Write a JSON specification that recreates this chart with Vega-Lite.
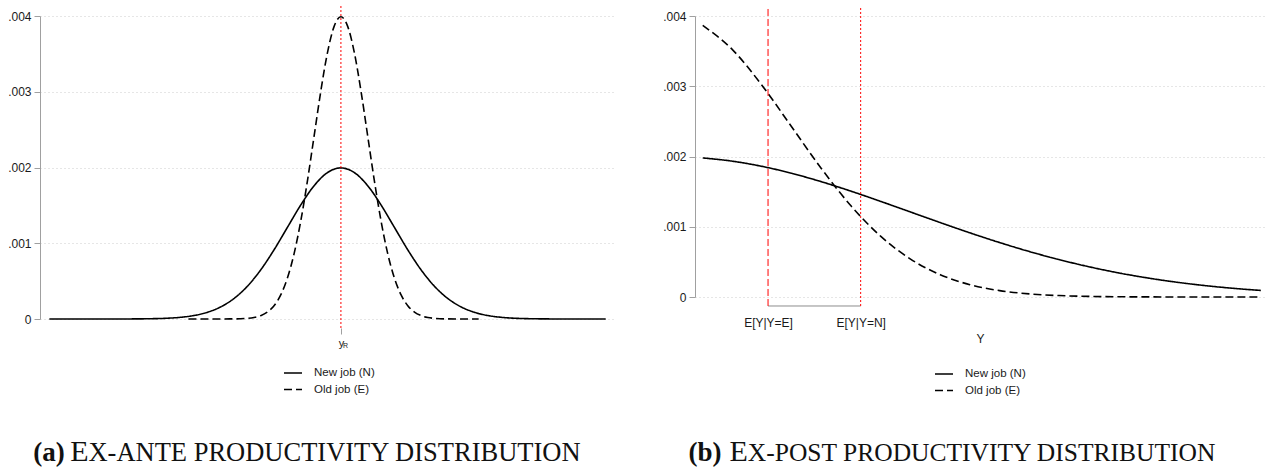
{
  "$schema": "https://vega.github.io/schema/vega-lite/v6.json",
  "background": "white",
  "padding": {"left": 7, "top": 5, "right": 0, "bottom": 0},
  "config": {
    "view": {"stroke": null},
    "axis": {
      "labelFont": "Liberation Sans", "labelFontSize": 12, "labelColor": "#1a1a1a",
      "titleFont": "Liberation Sans", "titleFontSize": 12, "titleFontWeight": "normal", "titleColor": "#1a1a1a",
      "domainColor": "#a0a0a0", "tickColor": "#a0a0a0", "gridColor": "#cccccc", "gridDash": [1, 3]
    },
    "legend": {
      "labelFont": "Liberation Sans", "labelFontSize": 11.5, "labelColor": "#1a1a1a"
    }
  },
  "datasets": {
    "left": [
      {"x": -1090, "d": 0, "s": "New job (N)"},
      {"x": -900, "d": 0.0000001, "s": "New job (N)"},
      {"x": -800, "d": 0.0000007, "s": "New job (N)"},
      {"x": -700, "d": 0.0000044, "s": "New job (N)"},
      {"x": -650, "d": 0.0000101, "s": "New job (N)"},
      {"x": -600, "d": 0.0000222, "s": "New job (N)"},
      {"x": -550, "d": 0.0000455, "s": "New job (N)"},
      {"x": -500, "d": 0.0000876, "s": "New job (N)"},
      {"x": -450, "d": 0.0001587, "s": "New job (N)"},
      {"x": -400, "d": 0.00027, "s": "New job (N)"},
      {"x": -350, "d": 0.0004314, "s": "New job (N)"},
      {"x": -300, "d": 0.0006476, "s": "New job (N)"},
      {"x": -250, "d": 0.0009132, "s": "New job (N)"},
      {"x": -200, "d": 0.0012098, "s": "New job (N)"},
      {"x": -150, "d": 0.0015057, "s": "New job (N)"},
      {"x": -100, "d": 0.0017603, "s": "New job (N)"},
      {"x": -50, "d": 0.0019333, "s": "New job (N)"},
      {"x": 0, "d": 0.0019947, "s": "New job (N)"},
      {"x": 50, "d": 0.0019333, "s": "New job (N)"},
      {"x": 100, "d": 0.0017603, "s": "New job (N)"},
      {"x": 150, "d": 0.0015057, "s": "New job (N)"},
      {"x": 200, "d": 0.0012098, "s": "New job (N)"},
      {"x": 250, "d": 0.0009132, "s": "New job (N)"},
      {"x": 300, "d": 0.0006476, "s": "New job (N)"},
      {"x": 350, "d": 0.0004314, "s": "New job (N)"},
      {"x": 400, "d": 0.00027, "s": "New job (N)"},
      {"x": 450, "d": 0.0001587, "s": "New job (N)"},
      {"x": 500, "d": 0.0000876, "s": "New job (N)"},
      {"x": 550, "d": 0.0000455, "s": "New job (N)"},
      {"x": 600, "d": 0.0000222, "s": "New job (N)"},
      {"x": 650, "d": 0.0000101, "s": "New job (N)"},
      {"x": 700, "d": 0.0000044, "s": "New job (N)"},
      {"x": 800, "d": 0.0000007, "s": "New job (N)"},
      {"x": 900, "d": 0.0000001, "s": "New job (N)"},
      {"x": 990, "d": 0, "s": "New job (N)"},
      {"x": -570, "d": 0, "s": "Old job (E)"},
      {"x": -400, "d": 0.0000013, "s": "Old job (E)"},
      {"x": -350, "d": 0.0000087, "s": "Old job (E)"},
      {"x": -325, "d": 0.0000203, "s": "Old job (E)"},
      {"x": -300, "d": 0.0000443, "s": "Old job (E)"},
      {"x": -275, "d": 0.000091, "s": "Old job (E)"},
      {"x": -250, "d": 0.0001753, "s": "Old job (E)"},
      {"x": -225, "d": 0.0003174, "s": "Old job (E)"},
      {"x": -200, "d": 0.0005399, "s": "Old job (E)"},
      {"x": -175, "d": 0.0008628, "s": "Old job (E)"},
      {"x": -150, "d": 0.0012952, "s": "Old job (E)"},
      {"x": -125, "d": 0.0018265, "s": "Old job (E)"},
      {"x": -100, "d": 0.0024197, "s": "Old job (E)"},
      {"x": -75, "d": 0.0030114, "s": "Old job (E)"},
      {"x": -50, "d": 0.0035207, "s": "Old job (E)"},
      {"x": -25, "d": 0.0038667, "s": "Old job (E)"},
      {"x": 0, "d": 0.0039894, "s": "Old job (E)"},
      {"x": 25, "d": 0.0038667, "s": "Old job (E)"},
      {"x": 50, "d": 0.0035207, "s": "Old job (E)"},
      {"x": 75, "d": 0.0030114, "s": "Old job (E)"},
      {"x": 100, "d": 0.0024197, "s": "Old job (E)"},
      {"x": 125, "d": 0.0018265, "s": "Old job (E)"},
      {"x": 150, "d": 0.0012952, "s": "Old job (E)"},
      {"x": 175, "d": 0.0008628, "s": "Old job (E)"},
      {"x": 200, "d": 0.0005399, "s": "Old job (E)"},
      {"x": 225, "d": 0.0003174, "s": "Old job (E)"},
      {"x": 250, "d": 0.0001753, "s": "Old job (E)"},
      {"x": 275, "d": 0.000091, "s": "Old job (E)"},
      {"x": 300, "d": 0.0000443, "s": "Old job (E)"},
      {"x": 325, "d": 0.0000203, "s": "Old job (E)"},
      {"x": 350, "d": 0.0000087, "s": "Old job (E)"},
      {"x": 400, "d": 0.0000013, "s": "Old job (E)"},
      {"x": 515, "d": 0, "s": "Old job (E)"}
    ],
    "right": [
      {"x": 25, "d": 0.0019792, "s": "New job (N)"},
      {"x": 50, "d": 0.0019333, "s": "New job (N)"},
      {"x": 75, "d": 0.0018593, "s": "New job (N)"},
      {"x": 100, "d": 0.0017603, "s": "New job (N)"},
      {"x": 125, "d": 0.0016408, "s": "New job (N)"},
      {"x": 150, "d": 0.0015057, "s": "New job (N)"},
      {"x": 175, "d": 0.0013603, "s": "New job (N)"},
      {"x": 200, "d": 0.0012098, "s": "New job (N)"},
      {"x": 225, "d": 0.0010594, "s": "New job (N)"},
      {"x": 250, "d": 0.0009132, "s": "New job (N)"},
      {"x": 275, "d": 0.0007751, "s": "New job (N)"},
      {"x": 300, "d": 0.0006476, "s": "New job (N)"},
      {"x": 325, "d": 0.0005327, "s": "New job (N)"},
      {"x": 350, "d": 0.0004314, "s": "New job (N)"},
      {"x": 375, "d": 0.0003439, "s": "New job (N)"},
      {"x": 400, "d": 0.00027, "s": "New job (N)"},
      {"x": 425, "d": 0.0002086, "s": "New job (N)"},
      {"x": 450, "d": 0.0001587, "s": "New job (N)"},
      {"x": 475, "d": 0.0001188, "s": "New job (N)"},
      {"x": 495, "d": 0.0000933, "s": "New job (N)"},
      {"x": 25, "d": 0.0038667, "s": "Old job (E)"},
      {"x": 50, "d": 0.0035207, "s": "Old job (E)"},
      {"x": 75, "d": 0.0030114, "s": "Old job (E)"},
      {"x": 100, "d": 0.0024197, "s": "Old job (E)"},
      {"x": 125, "d": 0.0018265, "s": "Old job (E)"},
      {"x": 150, "d": 0.0012952, "s": "Old job (E)"},
      {"x": 175, "d": 0.0008628, "s": "Old job (E)"},
      {"x": 200, "d": 0.0005399, "s": "Old job (E)"},
      {"x": 225, "d": 0.0003174, "s": "Old job (E)"},
      {"x": 250, "d": 0.0001753, "s": "Old job (E)"},
      {"x": 275, "d": 0.000091, "s": "Old job (E)"},
      {"x": 300, "d": 0.0000443, "s": "Old job (E)"},
      {"x": 325, "d": 0.0000203, "s": "Old job (E)"},
      {"x": 350, "d": 0.0000087, "s": "Old job (E)"},
      {"x": 400, "d": 0.0000013, "s": "Old job (E)"},
      {"x": 450, "d": 0.0000002, "s": "Old job (E)"},
      {"x": 495, "d": 0, "s": "Old job (E)"}
    ]
  },
  "spacing": 48,
  "resolve": {
    "scale": {"x": "independent", "y": "independent", "strokeDash": "independent"},
    "legend": {"strokeDash": "independent"}
  },
  "hconcat": [
    {
      "width": 574,
      "height": 303,
      "layer": [
        {
          "data": {"name": "left"},
          "mark": {"type": "line", "color": "black", "strokeWidth": 1.6, "interpolate": "monotone"},
          "encoding": {
            "x": {
              "field": "x", "type": "quantitative",
              "scale": {"domain": [-1125, 1021], "nice": false, "zero": false},
              "axis": {"title": null, "values": [0], "labelExpr": "'y'", "domain": false, "grid": false, "offset": 9, "tickSize": 6, "labelPadding": 3, "labelFontSize": 11, "labelDx": -4}
            },
            "y": {
              "field": "d", "type": "quantitative",
              "scale": {"domain": [0, 0.004], "nice": false},
              "axis": {"title": null, "values": [0, 0.001, 0.002, 0.003, 0.004], "labelExpr": "datum.value === 0 ? '0' : replace(format(datum.value, '.3f'), '0.', '.')", "tickSize": 6, "labelPadding": 3, "grid": true}
            },
            "strokeDash": {
              "field": "s", "type": "nominal",
              "scale": {"domain": ["New job (N)", "Old job (E)"], "range": [[1, 0], [8, 4]]},
              "legend": {"title": null, "orient": "none", "legendX": 243, "legendY": 347, "symbolType": "stroke", "symbolSize": 324, "symbolStrokeWidth": 1.5, "symbolStrokeColor": "black", "rowPadding": 0.5, "labelOffset": 11, "padding": 0}
            }
          }
        },
        {
          "data": {"values": [{"x": 0}]},
          "mark": {"type": "rule", "color": "#ff0000", "strokeWidth": 1, "strokeDash": [2, 2]},
          "encoding": {
            "x": {"field": "x", "type": "quantitative"},
            "y": {"datum": -0.000119},
            "y2": {"datum": 0.004132}
          }
        },
        {
          "data": {"values": [{"t": "R"}]},
          "mark": {"type": "text", "font": "Liberation Sans", "fontSize": 7, "align": "left", "baseline": "alphabetic", "dx": 2, "color": "#1a1a1a"},
          "encoding": {"x": {"datum": 0}, "y": {"datum": -0.000385}, "text": {"field": "t"}}
        },
        {
          "data": {"values": [{"t": "(a)"}]},
          "mark": {"type": "text", "font": "Liberation Serif", "fontWeight": "bold", "fontSize": 27, "align": "left", "baseline": "alphabetic", "color": "#111"},
          "encoding": {"x": {"datum": -1150}, "y": {"datum": -0.001875}, "text": {"field": "t"}}
        },
        {
          "data": {"values": [{"t": "E"}]},
          "mark": {"type": "text", "font": "Liberation Serif", "fontSize": 30, "align": "left", "baseline": "alphabetic", "color": "#111"},
          "encoding": {"x": {"datum": -1012}, "y": {"datum": -0.001875}, "text": {"field": "t"}}
        },
        {
          "data": {"values": [{"t": "X-ANTE PRODUCTIVITY DISTRIBUTION"}]},
          "mark": {"type": "text", "font": "Liberation Serif", "fontSize": 26.5, "align": "left", "baseline": "alphabetic", "color": "#111"},
          "encoding": {"x": {"datum": -944}, "y": {"datum": -0.001875}, "text": {"field": "t"}}
        }
      ]
    },
    {
      "width": 570,
      "height": 281,
      "layer": [
        {
          "data": {"name": "right"},
          "mark": {"type": "line", "color": "black", "strokeWidth": 1.6, "interpolate": "monotone"},
          "encoding": {
            "x": {
              "field": "x", "type": "quantitative",
              "scale": {"domain": [18.5, 498.5], "nice": false, "zero": false},
              "axis": {"title": "Y", "titlePadding": 5, "values": [80, 158], "labelExpr": "datum.value < 100 ? 'E[Y|Y=E]' : 'E[Y|Y=N]'", "domain": false, "ticks": false, "grid": false, "offset": 9, "labelPadding": 11}
            },
            "y": {
              "field": "d", "type": "quantitative",
              "scale": {"domain": [0, 0.004], "nice": false},
              "axis": {"title": null, "values": [0, 0.001, 0.002, 0.003, 0.004], "labelExpr": "datum.value === 0 ? '0' : replace(format(datum.value, '.3f'), '0.', '.')", "tickSize": 6, "labelPadding": 3, "grid": true}
            },
            "strokeDash": {
              "field": "s", "type": "nominal",
              "scale": {"domain": ["New job (N)", "Old job (E)"], "range": [[1, 0], [8, 4]]},
              "legend": {"title": null, "orient": "none", "legendX": 239, "legendY": 348, "symbolType": "stroke", "symbolSize": 324, "symbolStrokeWidth": 1.5, "symbolStrokeColor": "black", "rowPadding": 0.5, "labelOffset": 11, "padding": 0}
            }
          }
        },
        {
          "data": {"values": [{"a": 80, "b": 158}]},
          "mark": {"type": "rule", "color": "#8c8c8c", "strokeWidth": 1},
          "encoding": {
            "x": {"field": "a", "type": "quantitative"},
            "x2": {"field": "b"},
            "y": {"datum": -0.000128}
          }
        },
        {
          "data": {"values": [{"x": 80}]},
          "mark": {"type": "rule", "color": "#ff0000", "strokeWidth": 1, "strokeDash": [7, 3]},
          "encoding": {
            "x": {"field": "x", "type": "quantitative"},
            "y": {"datum": -0.000128},
            "y2": {"datum": 0.004142}
          }
        },
        {
          "data": {"values": [{"x": 158}]},
          "mark": {"type": "rule", "color": "#ff0000", "strokeWidth": 1, "strokeDash": [2, 2]},
          "encoding": {
            "x": {"field": "x", "type": "quantitative"},
            "y": {"datum": -0.000128},
            "y2": {"datum": 0.004142}
          }
        },
        {
          "data": {"values": [{"t": "(b)"}]},
          "mark": {"type": "text", "font": "Liberation Serif", "fontWeight": "bold", "fontSize": 27, "align": "left", "baseline": "alphabetic", "color": "#111"},
          "encoding": {"x": {"datum": 13}, "y": {"datum": -0.0023345}, "text": {"field": "t"}}
        },
        {
          "data": {"values": [{"t": "E"}]},
          "mark": {"type": "text", "font": "Liberation Serif", "fontSize": 30, "align": "left", "baseline": "alphabetic", "color": "#111"},
          "encoding": {"x": {"datum": 47.5}, "y": {"datum": -0.0023345}, "text": {"field": "t"}}
        },
        {
          "data": {"values": [{"t": "X-POST PRODUCTIVITY DISTRIBUTION"}]},
          "mark": {"type": "text", "font": "Liberation Serif", "fontSize": 25.5, "align": "left", "baseline": "alphabetic", "color": "#111"},
          "encoding": {"x": {"datum": 63}, "y": {"datum": -0.0023345}, "text": {"field": "t"}}
        }
      ]
    }
  ]
}
